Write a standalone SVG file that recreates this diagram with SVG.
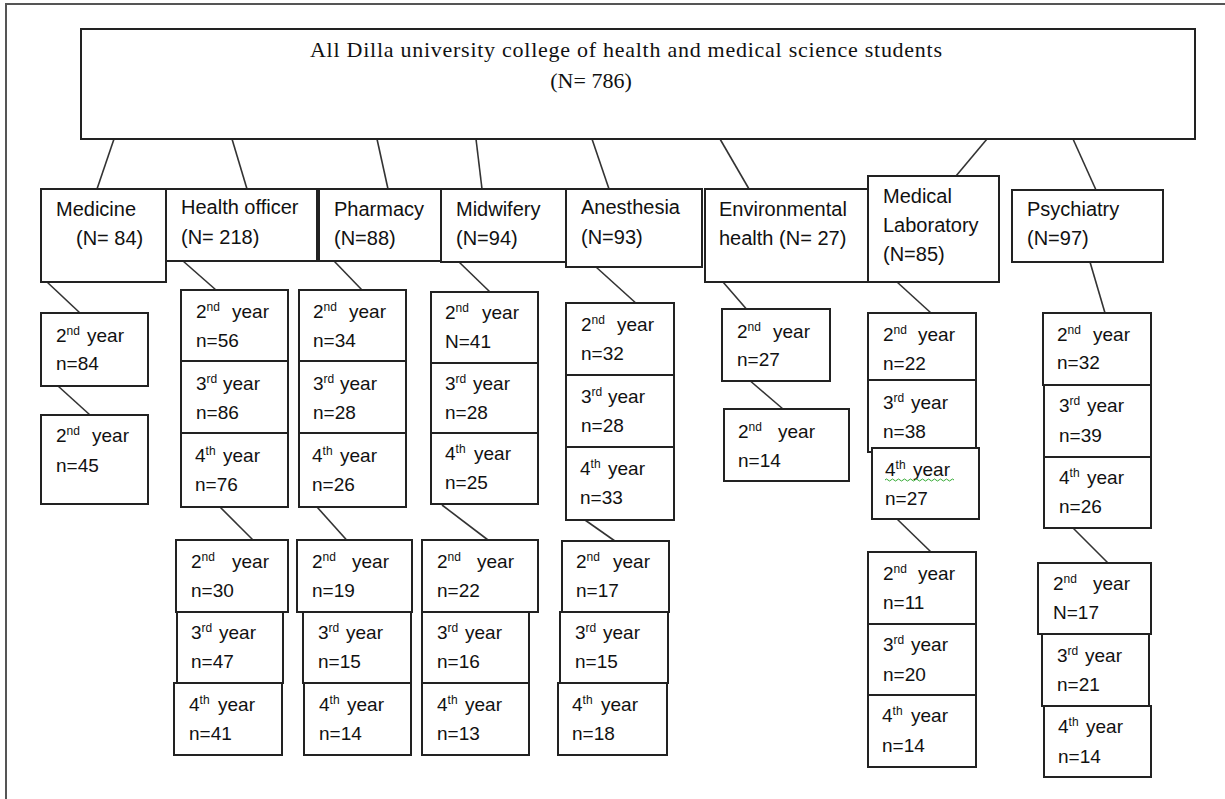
<svg xmlns="http://www.w3.org/2000/svg" width="1225" height="799" viewBox="0 0 1225 799">
<style>
.frame{fill:none;stroke:#555;stroke-width:2}
.box{fill:#fff;stroke:#222;stroke-width:2}
.ln{stroke:#333;stroke-width:1.6;fill:none}
text{font-family:"Liberation Sans",Arial,sans-serif;font-size:19px;fill:#111}
.d{font-size:20px}
.title{font-family:"Liberation Serif","Times New Roman",serif;font-size:22px}
.sup{font-size:12px}
</style>
<rect width="1225" height="799" fill="#fff"/>
<path class="frame" d="M6,799 V4 H1225"/>

<g id="connectors">
<line class="ln" x1="114" y1="139" x2="97" y2="189"/>
<line class="ln" x1="232" y1="139" x2="247" y2="189"/>
<line class="ln" x1="377" y1="139" x2="388" y2="189"/>
<line class="ln" x1="476" y1="139" x2="482" y2="189"/>
<line class="ln" x1="592" y1="139" x2="609" y2="189"/>
<line class="ln" x1="720" y1="139" x2="749" y2="189"/>
<line class="ln" x1="987" y1="139" x2="956" y2="176"/>
<line class="ln" x1="1073" y1="139" x2="1096" y2="190"/>
<line class="ln" x1="47" y1="282" x2="80" y2="313"/>
<line class="ln" x1="58" y1="386" x2="90" y2="415"/>
<line class="ln" x1="183" y1="261" x2="216" y2="290"/>
<line class="ln" x1="334" y1="261" x2="362" y2="290"/>
<line class="ln" x1="459" y1="262" x2="490" y2="292"/>
<line class="ln" x1="596" y1="267" x2="638" y2="305"/>
<line class="ln" x1="723" y1="282" x2="749" y2="312"/>
<line class="ln" x1="748" y1="379" x2="783" y2="409"/>
<line class="ln" x1="897" y1="282" x2="931" y2="313"/>
<line class="ln" x1="1090" y1="262" x2="1105" y2="313"/>
<line class="ln" x1="220" y1="507" x2="253" y2="540"/>
<line class="ln" x1="317" y1="507" x2="352" y2="546"/>
<line class="ln" x1="442" y1="505" x2="488" y2="540"/>
<line class="ln" x1="585" y1="520" x2="622" y2="546"/>
<line class="ln" x1="897" y1="519" x2="931" y2="552"/>
<line class="ln" x1="1073" y1="528" x2="1108" y2="563"/>
</g>

<g id="root">
<rect class="box" x="81" y="29" width="1114" height="110"/>
<text class="title" x="310" y="57" textLength="632" lengthAdjust="spacing">All Dilla university college of health and medical science students</text>
<text class="title" x="591" y="88" text-anchor="middle">(N= 786)</text>
</g>

<g id="dept-medicine"><rect class="box" x="41" y="189" width="125" height="93"/><text class="d" x="56" y="216">Medicine</text><text class="d" x="76" y="245">(N= 84)</text></g>
<g id="dept-health-officer"><rect class="box" x="166" y="189" width="151" height="72"/><text class="d" x="181" y="214">Health officer</text><text class="d" x="181" y="244">(N= 218)</text></g>
<g id="dept-pharmacy"><rect class="box" x="319" y="189" width="122" height="72"/><text class="d" x="334" y="216">Pharmacy</text><text class="d" x="334" y="245">(N=88)</text></g>
<g id="dept-midwifery"><rect class="box" x="441" y="189" width="125" height="73"/><text class="d" x="456" y="216">Midwifery</text><text class="d" x="456" y="245">(N=94)</text></g>
<g id="dept-anesthesia"><rect class="box" x="566" y="189" width="136" height="78"/><text class="d" x="581" y="214">Anesthesia</text><text class="d" x="581" y="244">(N=93)</text></g>
<g id="dept-environmental"><rect class="box" x="705" y="189" width="163" height="93"/><text class="d" x="719" y="216">Environmental</text><text class="d" x="719" y="245">health (N= 27)</text></g>
<g id="dept-medlab"><rect class="box" x="868" y="176" width="131" height="106"/><text class="d" x="883" y="203">Medical</text><text class="d" x="883" y="232">Laboratory</text><text class="d" x="883" y="261">(N=85)</text></g>
<g id="dept-psychiatry"><rect class="box" x="1012" y="190" width="151" height="72"/><text class="d" x="1027" y="216">Psychiatry</text><text class="d" x="1027" y="245">(N=97)</text></g>

<g id="med-y2a"><rect class="box" x="41" y="313" width="107" height="73"/><text x="56" y="342">2<tspan class="sup" dy="-7">nd</tspan><tspan x="87" dy="7">year</tspan></text><text x="56" y="370">n=84</text></g>
<g id="med-y2b"><rect class="box" x="41" y="415" width="107" height="89"/><text x="56" y="442">2<tspan class="sup" dy="-7">nd</tspan><tspan x="92" dy="7">year</tspan></text><text x="56" y="472">n=45</text></g>

<g id="ho-y2"><rect class="box" x="181" y="290" width="107" height="71"/><text x="196" y="318">2<tspan class="sup" dy="-7">nd</tspan><tspan x="232" dy="7">year</tspan></text><text x="196" y="347">n=56</text></g>
<g id="ho-y3"><rect class="box" x="181" y="361" width="107" height="72"/><text x="196" y="390">3<tspan class="sup" dy="-7">rd</tspan><tspan x="223" dy="7">year</tspan></text><text x="196" y="419">n=86</text></g>
<g id="ho-y4"><rect class="box" x="181" y="433" width="107" height="74"/><text x="195" y="462">4<tspan class="sup" dy="-7">th</tspan><tspan x="223" dy="7">year</tspan></text><text x="195" y="491">n=76</text></g>

<g id="ph-y2"><rect class="box" x="299" y="290" width="107" height="71"/><text x="313" y="318">2<tspan class="sup" dy="-7">nd</tspan><tspan x="349" dy="7">year</tspan></text><text x="313" y="347">n=34</text></g>
<g id="ph-y3"><rect class="box" x="299" y="361" width="107" height="72"/><text x="313" y="390">3<tspan class="sup" dy="-7">rd</tspan><tspan x="340" dy="7">year</tspan></text><text x="313" y="419">n=28</text></g>
<g id="ph-y4"><rect class="box" x="299" y="433" width="107" height="74"/><text x="312" y="462">4<tspan class="sup" dy="-7">th</tspan><tspan x="340" dy="7">year</tspan></text><text x="312" y="491">n=26</text></g>

<g id="mw-y2"><rect class="box" x="431" y="292" width="107" height="71"/><text x="445" y="319">2<tspan class="sup" dy="-7">nd</tspan><tspan x="482" dy="7">year</tspan></text><text x="445" y="348">N=41</text></g>
<g id="mw-y3"><rect class="box" x="431" y="363" width="107" height="70"/><text x="445" y="390">3<tspan class="sup" dy="-7">rd</tspan><tspan x="473" dy="7">year</tspan></text><text x="445" y="419">n=28</text></g>
<g id="mw-y4"><rect class="box" x="431" y="433" width="107" height="71"/><text x="445" y="460">4<tspan class="sup" dy="-7">th</tspan><tspan x="474" dy="7">year</tspan></text><text x="445" y="489">n=25</text></g>

<g id="an-y2"><rect class="box" x="566" y="303" width="108" height="72"/><text x="581" y="331">2<tspan class="sup" dy="-7">nd</tspan><tspan x="617" dy="7">year</tspan></text><text x="581" y="360">n=32</text></g>
<g id="an-y3"><rect class="box" x="566" y="375" width="108" height="72"/><text x="581" y="403">3<tspan class="sup" dy="-7">rd</tspan><tspan x="608" dy="7">year</tspan></text><text x="581" y="432">n=28</text></g>
<g id="an-y4"><rect class="box" x="566" y="447" width="108" height="73"/><text x="580" y="475">4<tspan class="sup" dy="-7">th</tspan><tspan x="608" dy="7">year</tspan></text><text x="580" y="504">n=33</text></g>

<g id="env-y2a"><rect class="box" x="722" y="309" width="108" height="72"/><text x="737" y="338">2<tspan class="sup" dy="-7">nd</tspan><tspan x="773" dy="7">year</tspan></text><text x="737" y="366">n=27</text></g>
<g id="env-y2b"><rect class="box" x="724" y="409" width="125" height="72"/><text x="738" y="438">2<tspan class="sup" dy="-7">nd</tspan><tspan x="778" dy="7">year</tspan></text><text x="738" y="467">n=14</text></g>

<g id="ml-y2"><rect class="box" x="868" y="313" width="108" height="67"/><text x="883" y="341">2<tspan class="sup" dy="-7">nd</tspan><tspan x="918" dy="7">year</tspan></text><text x="883" y="370">n=22</text></g>
<g id="ml-y3"><rect class="box" x="868" y="380" width="108" height="72"/><text x="883" y="409">3<tspan class="sup" dy="-7">rd</tspan><tspan x="911" dy="7">year</tspan></text><text x="883" y="438">n=38</text></g>
<g id="ml-y4"><rect class="box" x="872" y="448" width="107" height="71"/><text x="885" y="476">4<tspan class="sup" dy="-7">th</tspan><tspan x="913" dy="7">year</tspan></text><path d="M885,480 q1.5,-2 3,0 t3,0 t3,0 t3,0 t3,0 t3,0 t3,0 t3,0 t3,0 t3,0 t3,0 t3,0 t3,0 t3,0 t3,0 t3,0 t3,0 t3,0 t3,0 t3,0 t3,0 t3,0 t3,0" fill="none" stroke="#3a3" stroke-width="1"/><text x="885" y="505">n=27</text></g>

<g id="ps-y2"><rect class="box" x="1043" y="313" width="108" height="72"/><text x="1057" y="341">2<tspan class="sup" dy="-7">nd</tspan><tspan x="1093" dy="7">year</tspan></text><text x="1057" y="369">n=32</text></g>
<g id="ps-y3"><rect class="box" x="1044" y="385" width="107" height="72"/><text x="1059" y="412">3<tspan class="sup" dy="-7">rd</tspan><tspan x="1087" dy="7">year</tspan></text><text x="1059" y="442">n=39</text></g>
<g id="ps-y4"><rect class="box" x="1044" y="457" width="107" height="71"/><text x="1059" y="484">4<tspan class="sup" dy="-7">th</tspan><tspan x="1087" dy="7">year</tspan></text><text x="1059" y="513">n=26</text></g>

<g id="hol-y2"><rect class="box" x="176" y="540" width="112" height="72"/><text x="191" y="568">2<tspan class="sup" dy="-7">nd</tspan><tspan x="232" dy="7">year</tspan></text><text x="191" y="597">n=30</text></g>
<g id="hol-y3"><rect class="box" x="177" y="612" width="106" height="71"/><text x="191" y="639">3<tspan class="sup" dy="-7">rd</tspan><tspan x="219" dy="7">year</tspan></text><text x="191" y="668">n=47</text></g>
<g id="hol-y4"><rect class="box" x="174" y="683" width="108" height="72"/><text x="189" y="711">4<tspan class="sup" dy="-7">th</tspan><tspan x="218" dy="7">year</tspan></text><text x="189" y="740">n=41</text></g>

<g id="phl-y2"><rect class="box" x="297" y="540" width="115" height="72"/><text x="312" y="568">2<tspan class="sup" dy="-7">nd</tspan><tspan x="352" dy="7">year</tspan></text><text x="312" y="597">n=19</text></g>
<g id="phl-y3"><rect class="box" x="303" y="612" width="108" height="71"/><text x="318" y="639">3<tspan class="sup" dy="-7">rd</tspan><tspan x="346" dy="7">year</tspan></text><text x="318" y="668">n=15</text></g>
<g id="phl-y4"><rect class="box" x="304" y="683" width="107" height="72"/><text x="319" y="711">4<tspan class="sup" dy="-7">th</tspan><tspan x="347" dy="7">year</tspan></text><text x="319" y="740">n=14</text></g>

<g id="mwl-y2"><rect class="box" x="422" y="540" width="116" height="72"/><text x="437" y="568">2<tspan class="sup" dy="-7">nd</tspan><tspan x="477" dy="7">year</tspan></text><text x="437" y="597">n=22</text></g>
<g id="mwl-y3"><rect class="box" x="422" y="612" width="107" height="71"/><text x="437" y="639">3<tspan class="sup" dy="-7">rd</tspan><tspan x="465" dy="7">year</tspan></text><text x="437" y="668">n=16</text></g>
<g id="mwl-y4"><rect class="box" x="422" y="683" width="107" height="72"/><text x="437" y="711">4<tspan class="sup" dy="-7">th</tspan><tspan x="465" dy="7">year</tspan></text><text x="437" y="740">n=13</text></g>

<g id="anl-y2"><rect class="box" x="562" y="541" width="107" height="71"/><text x="576" y="568">2<tspan class="sup" dy="-7">nd</tspan><tspan x="613" dy="7">year</tspan></text><text x="576" y="597">n=17</text></g>
<g id="anl-y3"><rect class="box" x="560" y="612" width="108" height="71"/><text x="575" y="639">3<tspan class="sup" dy="-7">rd</tspan><tspan x="603" dy="7">year</tspan></text><text x="575" y="668">n=15</text></g>
<g id="anl-y4"><rect class="box" x="558" y="683" width="109" height="72"/><text x="572" y="711">4<tspan class="sup" dy="-7">th</tspan><tspan x="601" dy="7">year</tspan></text><text x="572" y="740">n=18</text></g>

<g id="mll-y2"><rect class="box" x="868" y="552" width="108" height="72"/><text x="883" y="580">2<tspan class="sup" dy="-7">nd</tspan><tspan x="918" dy="7">year</tspan></text><text x="883" y="609">n=11</text></g>
<g id="mll-y3"><rect class="box" x="868" y="624" width="108" height="71"/><text x="883" y="651">3<tspan class="sup" dy="-7">rd</tspan><tspan x="911" dy="7">year</tspan></text><text x="883" y="681">n=20</text></g>
<g id="mll-y4"><rect class="box" x="868" y="695" width="108" height="72"/><text x="882" y="722">4<tspan class="sup" dy="-7">th</tspan><tspan x="911" dy="7">year</tspan></text><text x="882" y="752">n=14</text></g>

<g id="psl-y2"><rect class="box" x="1038" y="563" width="113" height="71"/><text x="1053" y="590">2<tspan class="sup" dy="-7">nd</tspan><tspan x="1093" dy="7">year</tspan></text><text x="1053" y="619">N=17</text></g>
<g id="psl-y3"><rect class="box" x="1042" y="634" width="107" height="72"/><text x="1057" y="662">3<tspan class="sup" dy="-7">rd</tspan><tspan x="1085" dy="7">year</tspan></text><text x="1057" y="691">n=21</text></g>
<g id="psl-y4"><rect class="box" x="1044" y="706" width="107" height="71"/><text x="1058" y="733">4<tspan class="sup" dy="-7">th</tspan><tspan x="1086" dy="7">year</tspan></text><text x="1058" y="763">n=14</text></g>
</svg>
